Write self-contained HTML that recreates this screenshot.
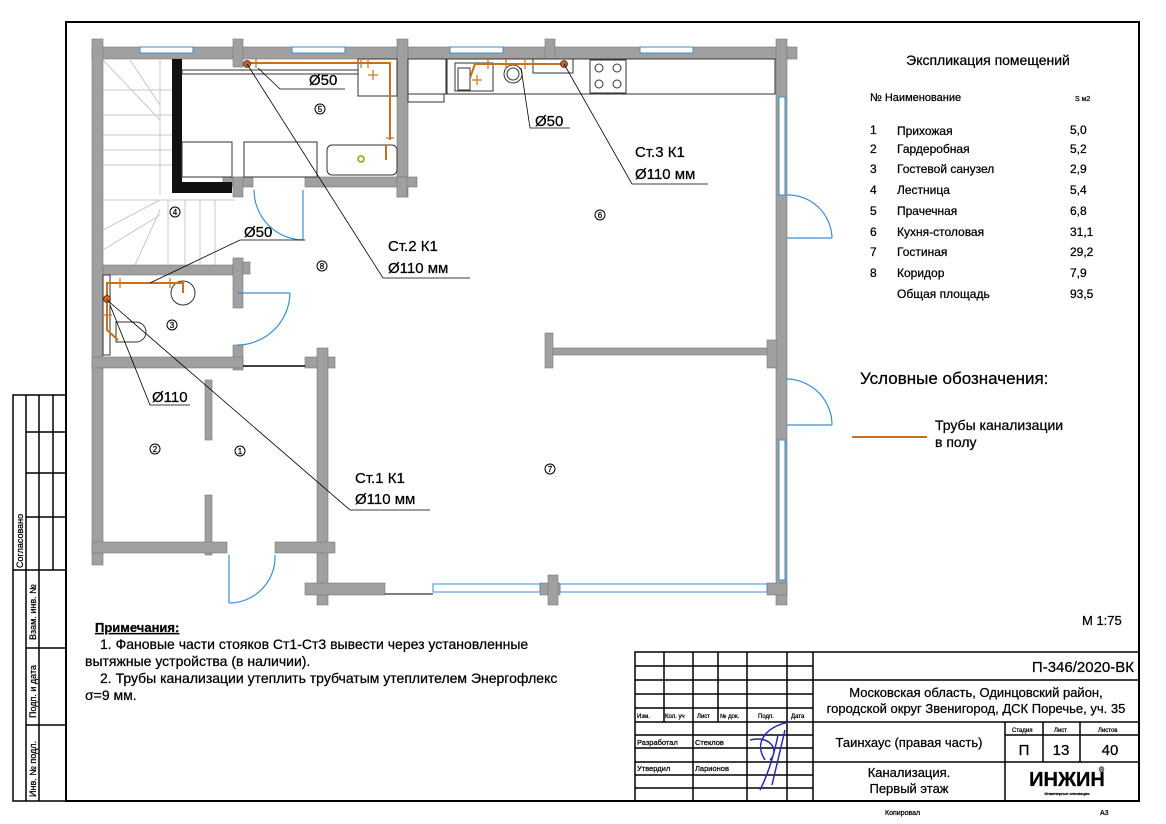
<!DOCTYPE html>
<html><head><meta charset="utf-8"><style>
html,body{margin:0;padding:0;background:#fff}
svg{display:block}
text{font-family:"Liberation Sans","Noto Sans CJK SC",sans-serif;fill:#000;stroke:#000;stroke-width:0.25}
</style></head><body>
<svg width="1166" height="824" viewBox="0 0 1166 824" xmlns="http://www.w3.org/2000/svg">
<rect width="1166" height="824" fill="#fff"/>
<rect x="66" y="22" width="1073" height="779" fill="none" stroke="#000" stroke-width="2"/>
<g stroke="#000" stroke-width="1.5" fill="none">
<rect x="13" y="395" width="53" height="406"/>
<line x1="26" y1="395" x2="26" y2="570"/><line x1="39" y1="395" x2="39" y2="801"/><line x1="53" y1="395" x2="53" y2="570"/>
<line x1="26" y1="432" x2="66" y2="432"/><line x1="26" y1="473" x2="66" y2="473"/><line x1="26" y1="517" x2="66" y2="517"/>
<line x1="13" y1="570" x2="66" y2="570"/><line x1="26" y1="570" x2="26" y2="801"/>
<line x1="26" y1="648" x2="66" y2="648"/><line x1="26" y1="725" x2="66" y2="725"/>
</g>
<g font-size="9">
<text transform="translate(23,568) rotate(-90)">Согласовано</text>
<text transform="translate(36,640) rotate(-90)">Взам. инв. №</text>
<text transform="translate(36,718) rotate(-90)">Подп. и дата</text>
<text transform="translate(36,797) rotate(-90)">Инв. № подл.</text>
</g>

<g fill="#a0a0a0" stroke="#777" stroke-width="0.6">
<rect x="92" y="47" width="696" height="12"/>
<rect x="92" y="39" width="11" height="526"/>
<rect x="233" y="39" width="10" height="28"/>
<rect x="545" y="39" width="10" height="20"/>
<rect x="776" y="39" width="11" height="566"/>
<rect x="787" y="47" width="10" height="12"/>
<rect x="397" y="39" width="11" height="158"/>
<rect x="223" y="177" width="30" height="10"/>
<rect x="305" y="177" width="112" height="10"/>
<rect x="233" y="177" width="10" height="20"/>
<rect x="397" y="177" width="10" height="20"/>
<rect x="103" y="265" width="130" height="10"/>
<rect x="233" y="258" width="10" height="50"/>
<rect x="243" y="262" width="7" height="12"/>
<rect x="233" y="345" width="10" height="25"/>
<rect x="92" y="357" width="151" height="11"/>
<rect x="305" y="357" width="30" height="11"/>
<rect x="317" y="348" width="11" height="257"/>
<rect x="205" y="380" width="7" height="60"/>
<rect x="205" y="495" width="7" height="60"/>
<rect x="92" y="542" width="135" height="11"/>
<rect x="275" y="542" width="60" height="11"/>
<rect x="305" y="583" width="80" height="12"/>
<rect x="540" y="583" width="20" height="12"/>
<rect x="548" y="575" width="10" height="30"/>
<rect x="767" y="583" width="20" height="12"/>
<rect x="545" y="333" width="8" height="35"/>
<rect x="553" y="348" width="223" height="7"/>
<rect x="767" y="340" width="10" height="28"/>
</g>
<g fill="#fff" stroke="#3a8fd6" stroke-width="1">
<rect x="140" y="47" width="53" height="6"/>
<rect x="292" y="47" width="53" height="6"/>
<rect x="450" y="47" width="53" height="6"/>
<rect x="640" y="47" width="53" height="6"/>
<rect x="779" y="97" width="6" height="98"/>
<rect x="779" y="440" width="6" height="140"/>
<rect x="433" y="584" width="107" height="8"/>
<rect x="560" y="584" width="207" height="8"/>
</g>
<line x1="385" y1="594" x2="433" y2="594" stroke="#000"/>
<line x1="243" y1="366" x2="305" y2="366" stroke="#000" stroke-width="1.5"/>
<g fill="none" stroke="#3a8fd6" stroke-width="1.2">
<line x1="303" y1="190" x2="303" y2="240"/><path d="M303 240 A50 50 0 0 1 254 190"/>
<line x1="237" y1="293" x2="290" y2="293"/><path d="M290 293 A53 53 0 0 1 237 345"/>
<line x1="229" y1="555" x2="229" y2="603"/><path d="M229 603 A46 46 0 0 0 275 555"/>
<line x1="787" y1="238" x2="832" y2="238"/><path d="M832 238 A44 44 0 0 0 787 195"/>
<line x1="787" y1="425" x2="832" y2="425"/><path d="M832 425 A46 46 0 0 0 787 379"/>
</g>
<g stroke="#c8c8c8" stroke-width="1" fill="none">
<line x1="103" y1="90" x2="172" y2="90"/><line x1="103" y1="115" x2="172" y2="115"/><line x1="103" y1="135" x2="172" y2="135"/>
<line x1="103" y1="150" x2="172" y2="150"/><line x1="103" y1="165" x2="172" y2="165"/><line x1="103" y1="200" x2="235" y2="200"/>
<line x1="103" y1="60" x2="160" y2="120"/><line x1="130" y1="60" x2="160" y2="105"/><line x1="160" y1="60" x2="160" y2="195"/>
<line x1="103" y1="230" x2="160" y2="200"/><line x1="103" y1="250" x2="160" y2="215"/><line x1="135" y1="265" x2="160" y2="210"/>
<line x1="168" y1="200" x2="168" y2="265"/><line x1="185" y1="200" x2="185" y2="265"/><line x1="200" y1="200" x2="200" y2="265"/><line x1="215" y1="200" x2="215" y2="265"/>
</g>
<rect x="172" y="59" width="10" height="128" fill="#111"/>
<rect x="172" y="182" width="60" height="11" fill="#111"/>
<g fill="#fff" stroke="#333" stroke-width="1">
<rect x="182" y="70" width="215" height="4"/>
<rect x="182" y="142" width="50" height="35"/>
<rect x="244" y="142" width="73" height="35"/>
<rect x="358" y="59" width="39" height="37"/>
<rect x="408" y="59" width="38" height="35"/>
<rect x="408" y="94" width="36" height="8"/>
<rect x="327" y="145" width="70" height="30" rx="5"/>
<rect x="447" y="59" width="328" height="35"/>
<rect x="455" y="63" width="38" height="28"/>
<rect x="458" y="68" width="12" height="22"/>
<circle cx="513" cy="74" r="9"/><circle cx="513" cy="74" r="6"/>
<rect x="533" y="59" width="40" height="14"/>
<rect x="590" y="60" width="36" height="33"/>
<circle cx="599" cy="68" r="4"/><circle cx="617" cy="68" r="4"/><circle cx="599" cy="84" r="4"/><circle cx="617" cy="84" r="4"/>
<rect x="103" y="275" width="7" height="80"/>
<circle cx="183" cy="293" r="12"/>
<path d="M116 322 h20 a10 10 0 0 1 0 20 h-20 z"/>
</g>
<circle cx="361" cy="159" r="3" fill="none" stroke="#9a9a00" stroke-width="1.5"/>
<g stroke="#c8701a" stroke-width="2" fill="none">
<polyline points="247,63 390,63 390,140"/>
<line x1="386" y1="160" x2="386" y2="145"/>
<polyline points="475,64 564,64"/><line x1="475" y1="64" x2="470" y2="78"/>
<polyline points="183,293 183,283 107,283 107,330 118,340"/>
</g>
<g stroke="#c8701a" stroke-width="1.2">
<line x1="256" y1="58" x2="256" y2="68"/><line x1="361" y1="58" x2="361" y2="68"/><line x1="368" y1="58" x2="368" y2="68"/>
<line x1="373" y1="70" x2="373" y2="80"/><line x1="368" y1="75" x2="378" y2="75"/>
<line x1="386" y1="138" x2="394" y2="138"/>
<line x1="488" y1="59" x2="488" y2="69"/><line x1="506" y1="59" x2="506" y2="69"/><line x1="525" y1="59" x2="525" y2="69"/>
<line x1="477" y1="75" x2="477" y2="85"/><line x1="472" y1="80" x2="482" y2="80"/>
<line x1="120" y1="278" x2="120" y2="288"/><line x1="170" y1="278" x2="170" y2="288"/>
<line x1="102" y1="315" x2="112" y2="315"/>
</g>
<circle cx="247" cy="64" r="3.5" fill="#d2601a" stroke="#333" stroke-width="0.8"/>
<circle cx="564" cy="64" r="3.5" fill="#d2601a" stroke="#333" stroke-width="0.8"/>
<circle cx="107" cy="299" r="3.5" fill="#d2601a" stroke="#333" stroke-width="0.8"/>
<g stroke="#000" stroke-width="0.8" fill="none">
<polyline points="247,64 383,278 470,278"/>
<polyline points="258,68 280,89 345,89"/>
<polyline points="564,64 632,184 708,184"/>
<polyline points="521,68 530,128 570,128"/>
<polyline points="150,283 240,240 305,240"/>
<polyline points="107,300 350,510 430,510"/>
<polyline points="110,305 150,405 190,405"/>
</g>
<g font-size="15">
<text x="309" y="85">Ø50</text>
<text x="535" y="126">Ø50</text>
<text x="244" y="237">Ø50</text>
<text x="152" y="402">Ø110</text>
<text x="388" y="251">Ст.2  К1</text><text x="388" y="273">Ø110 мм</text>
<text x="635" y="157">Ст.3  К1</text><text x="635" y="179">Ø110 мм</text>
<text x="355" y="483">Ст.1  К1</text><text x="355" y="504">Ø110 мм</text>
</g>
<g font-size="8" text-anchor="middle" fill="none">
<g stroke="#000" stroke-width="1">
<circle cx="320" cy="109" r="5"/><circle cx="175" cy="212" r="5"/><circle cx="172" cy="325" r="5"/><circle cx="322" cy="266" r="5"/>
<circle cx="600" cy="215" r="5"/><circle cx="155" cy="449" r="5"/><circle cx="240" cy="451" r="5"/><circle cx="550" cy="469" r="5"/>
</g>
<text x="320" y="112">5</text><text x="175" y="215">4</text><text x="172" y="328">3</text><text x="322" y="269">8</text>
<text x="600" y="218">6</text><text x="155" y="452">2</text><text x="240" y="454">1</text><text x="550" y="472">7</text>
</g>

<text x="988" y="65" font-size="14" text-anchor="middle">Экспликация помещений</text>
<text x="870" y="101" font-size="11">№ Наименование</text>
<text x="1075" y="101" font-size="7">S м2</text>
<g font-size="12">
<text x="870" y="134">1</text><text x="897" y="135">Прихожая</text><text x="1070" y="134">5,0</text>
<text x="870" y="153">2</text><text x="897" y="153">Гардеробная</text><text x="1070" y="153">5,2</text>
<text x="870" y="173">3</text><text x="897" y="173">Гостевой санузел</text><text x="1070" y="173">2,9</text>
<text x="870" y="194">4</text><text x="897" y="194">Лестница</text><text x="1070" y="194">5,4</text>
<text x="870" y="215">5</text><text x="897" y="215">Прачечная</text><text x="1070" y="215">6,8</text>
<text x="870" y="236">6</text><text x="897" y="236">Кухня-столовая</text><text x="1070" y="236">31,1</text>
<text x="870" y="256">7</text><text x="897" y="256">Гостиная</text><text x="1070" y="256">29,2</text>
<text x="870" y="277">8</text><text x="897" y="277">Коридор</text><text x="1070" y="277">7,9</text>
<text x="897" y="298">Общая площадь</text><text x="1070" y="298">93,5</text>
</g>
<text x="860" y="384" font-size="17">Условные обозначения:</text>
<line x1="852" y1="437" x2="927" y2="437" stroke="#c8701a" stroke-width="2"/>
<text x="935" y="430" font-size="14">Трубы канализации</text>
<text x="935" y="447" font-size="14">в полу</text>
<text x="1082" y="625" font-size="13">М 1:75</text>

<text x="95" y="632" font-size="13" font-weight="bold" text-decoration="underline">Примечания:</text>
<g font-size="14">
<text x="100" y="649">1.    Фановые части стояков Ст1-Ст3 вывести через установленные</text>
<text x="85" y="666">вытяжные устройства (в наличии).</text>
<text x="100" y="683">2.    Трубы канализации утеплить трубчатым утеплителем Энергофлекс</text>
<text x="85" y="700">σ=9 мм.</text>
</g>

<g stroke="#000" stroke-width="1.5" fill="none">
<rect x="635" y="652" width="504" height="149"/>
<line x1="813" y1="652" x2="813" y2="801"/>
<line x1="664" y1="652" x2="664" y2="722"/><line x1="693" y1="652" x2="693" y2="801"/>
<line x1="718" y1="652" x2="718" y2="722"/><line x1="747" y1="652" x2="747" y2="801"/>
<line x1="787" y1="652" x2="787" y2="801"/>
<line x1="635" y1="666" x2="813" y2="666"/><line x1="635" y1="680" x2="813" y2="680"/>
<line x1="635" y1="694" x2="813" y2="694"/><line x1="635" y1="708" x2="813" y2="708"/>
<line x1="635" y1="722" x2="813" y2="722"/><line x1="635" y1="735" x2="813" y2="735"/>
<line x1="635" y1="748" x2="813" y2="748"/><line x1="635" y1="762" x2="813" y2="762"/>
<line x1="635" y1="775" x2="813" y2="775"/><line x1="635" y1="788" x2="813" y2="788"/>
<line x1="813" y1="680" x2="1139" y2="680"/><line x1="813" y1="722" x2="1139" y2="722"/>
<line x1="813" y1="762" x2="1139" y2="762"/>
<line x1="1005" y1="722" x2="1005" y2="801"/>
<line x1="1043" y1="722" x2="1043" y2="762"/><line x1="1080" y1="722" x2="1080" y2="762"/>
<line x1="1005" y1="735" x2="1139" y2="735"/>
</g>
<g font-size="6">
<text x="637" y="718">Изм.</text><text x="665" y="718">Кол. уч</text><text x="697" y="718">Лист</text><text x="720" y="718">№ док.</text><text x="758" y="718">Подп.</text><text x="791" y="718">Дата</text>
<text x="1012" y="732">Стадия</text><text x="1054" y="732">Лист</text><text x="1098" y="732">Листов</text>
</g>
<g font-size="7.5">
<text x="637" y="745">Разработал</text><text x="695" y="745">Стеклов</text>
<text x="637" y="771">Утвердил</text><text x="695" y="771">Ларионов</text>
</g>
<path d="M765 760 C752 740 770 725 790 722 M760 790 C770 770 775 750 778 735 M772 785 L785 730 M750 740 C770 735 780 750 770 760" stroke="#2a2ab8" stroke-width="1.5" fill="none"/>
<text x="1134" y="672" font-size="15" text-anchor="end">П-346/2020-ВК</text>
<text x="976" y="697" font-size="13" text-anchor="middle">Московская область, Одинцовский район,</text>
<text x="976" y="713" font-size="13" text-anchor="middle">городской округ Звенигород, ДСК Поречье, уч. 35</text>
<text x="909" y="747" font-size="13" text-anchor="middle">Таинхаус (правая часть)</text>
<text x="1024" y="755" font-size="15" text-anchor="middle">П</text>
<text x="1061" y="755" font-size="15" text-anchor="middle">13</text>
<text x="1110" y="755" font-size="15" text-anchor="middle">40</text>
<text x="909" y="777" font-size="13" text-anchor="middle">Канализация.</text>
<text x="909" y="793" font-size="13" text-anchor="middle">Первый этаж</text>
<text x="1067" y="786" font-size="20" font-weight="bold" text-anchor="middle">ИНЖИН</text>
<text x="1099" y="772" font-size="7">®</text>
<text x="1067" y="795" font-size="4" fill="#3a3" stroke="none" text-anchor="middle">Инженерные инновации</text>
<text x="885" y="815" font-size="7">Копировал</text>
<text x="1100" y="815" font-size="7">А3</text>
</svg>
</body></html>
